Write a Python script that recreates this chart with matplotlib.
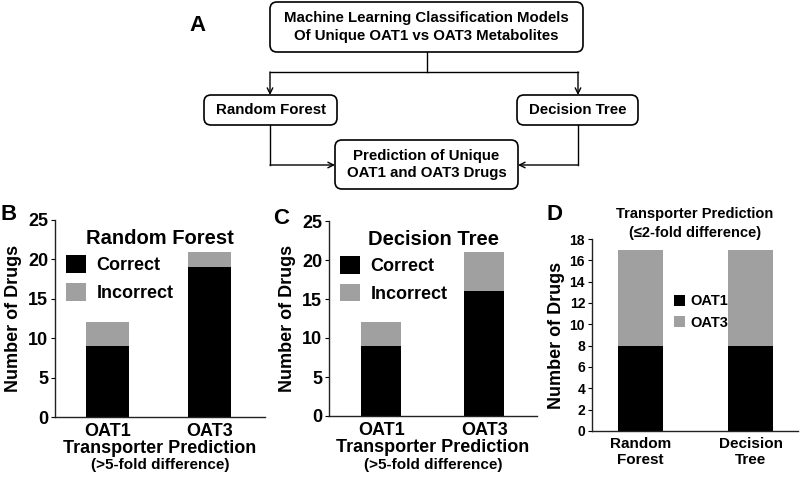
import matplotlib
matplotlib.use('Agg')
import matplotlib.pyplot as plt
from matplotlib.patches import FancyBboxPatch

plt.rcParams['font.family'] = ['Liberation Sans', 'DejaVu Sans']
plt.rcParams['font.weight'] = 'bold'

# Datos de los paneles
groups = ['OAT1', 'OAT3']
rf_correct = [9, 19]
rf_incorrect = [3, 2]
dt_correct = [9, 16]
dt_incorrect = [3, 5]

models = ['Random\nForest', 'Decision\nTree']
oat1_close = [8, 8]
oat3_close = [9, 9]

BLACK = '#000000'
GREY = '#a0a0a0'
W, H = 800, 478

fig = plt.figure(figsize=(8, 4.78), dpi=100)

# Panel A: diagrama de flujo en coordenadas de pixeles
fa = fig.add_axes([0, 0, 1, 1])
fa.set_xlim(0, W)
fa.set_ylim(H, 0)
fa.axis('off')


def box(x0, y0, x1, y1, text):
    p = FancyBboxPatch((x0, y0), x1 - x0, y1 - y0,
                       boxstyle='round,pad=0,rounding_size=7',
                       fc='white', ec='black', lw=1.2)
    fa.add_patch(p)
    fa.text((x0 + x1) / 2, (y0 + y1) / 2, text, ha='center', va='center',
            fontsize=10.8, fontweight='bold', linespacing=1.3)


def arrow(x0, y0, x1, y1):
    fa.annotate('', xy=(x1, y1), xytext=(x0, y0),
                arrowprops=dict(arrowstyle='->', lw=1.0, color='black',
                                shrinkA=0, shrinkB=0, mutation_scale=10))


box(270, 2, 583, 52, 'Machine Learning Classification Models\nOf Unique OAT1 vs OAT3 Metabolites')
box(204, 95, 337, 125, 'Random Forest')
box(517, 95, 638, 125, 'Decision Tree')
box(335, 140, 518, 189, 'Prediction of Unique\nOAT1 and OAT3 Drugs')

fa.plot([427, 427], [52, 72], color='black', lw=1.0)
fa.plot([270, 578], [72, 72], color='black', lw=1.0)
arrow(270, 72, 270, 95)
arrow(578, 72, 578, 95)
fa.plot([270, 270], [125, 165], color='black', lw=1.0)
fa.plot([578, 578], [125, 165], color='black', lw=1.0)
arrow(270, 165, 335, 165)
arrow(578, 165, 518, 165)
fa.text(198, 25, 'A', ha='center', va='center', fontsize=16, fontweight='bold')


def style(ax, ymax, step, tick_fs):
    for s in ['top', 'right']:
        ax.spines[s].set_visible(False)
    for s in ['left', 'bottom']:
        ax.spines[s].set_linewidth(1.0)
        ax.spines[s].set_color('#222222')
    ax.set_ylim(0, ymax)
    ax.set_yticks(range(0, ymax + 1, step))
    ax.tick_params(axis='y', direction='out', length=3, width=0.8,
                   labelsize=tick_fs, pad=2)
    ax.tick_params(axis='x', length=0, pad=4)
    for lab in ax.get_yticklabels():
        lab.set_fontweight('bold')


def stacked_panel(rect_px, correct, incorrect, title, xlim, width):
    x0, y0, x1, y1 = rect_px
    ax = fig.add_axes([x0 / W, 1 - y1 / H, (x1 - x0) / W, (y1 - y0) / H])
    x = list(range(len(groups)))
    ax.bar(x, correct, width=width, color=BLACK, label='Correct')
    ax.bar(x, incorrect, width=width, bottom=correct, color=GREY, label='Incorrect')
    ax.set_xlim(*xlim)
    style(ax, 25, 5, 13)
    ax.set_xticks(x)
    ax.set_xticklabels(groups, fontsize=13, fontweight='bold')
    ax.set_ylabel('Number of Drugs', fontsize=13, fontweight='bold', labelpad=4)
    ax.set_xlabel('Transporter Prediction', fontsize=13, fontweight='bold', labelpad=0)
    ax.text(0.5, 0.905, title, transform=ax.transAxes, ha='center', va='center',
            fontsize=14.5, fontweight='bold')
    ax.legend(loc='upper left', bbox_to_anchor=(0.0, 0.875), frameon=False,
              fontsize=13, handlelength=1.1, handleheight=1.1,
              handletextpad=0.6, labelspacing=0.5, borderaxespad=0.2)
    fig.text((x0 + x1) / 2 / W, 1 - 465 / H, '(>5-fold difference)',
             ha='center', va='center', fontsize=11, fontweight='bold')
    return ax


# Panel B
stacked_panel((55, 220, 265, 417), rf_correct, rf_incorrect,
              'Random Forest', (-0.52, 1.55), 0.42)
fig.text(9 / W, 1 - 215 / H, 'B', ha='center', va='center',
         fontsize=16, fontweight='bold')

# Panel C
stacked_panel((329, 221, 537, 416), dt_correct, dt_incorrect,
              'Decision Tree', (-0.505, 1.51), 0.39)
fig.text(281 / W, 1 - 219 / H, 'C', ha='center', va='center',
         fontsize=16, fontweight='bold')

# Panel D
axd = fig.add_axes([592 / W, 1 - 431 / H, 206 / W, 192 / H])
xd = list(range(len(models)))
axd.bar(xd, oat1_close, width=0.41, color=BLACK, label='OAT1')
axd.bar(xd, oat3_close, width=0.41, bottom=oat1_close, color=GREY, label='OAT3')
axd.set_xlim(-0.44, 1.43)
style(axd, 18, 2, 10)
axd.set_xticks(xd)
axd.set_xticklabels(models, fontsize=11, fontweight='bold', linespacing=1.25)
axd.set_ylabel('Number of Drugs', fontsize=13, fontweight='bold', labelpad=3)
fig.text(695 / W, 1 - 214 / H, 'Transporter Prediction', ha='center',
         va='center', fontsize=10.5, fontweight='bold')
fig.text(695 / W, 1 - 233 / H, '(\u22642-fold difference)', ha='center',
         va='center', fontsize=10.5, fontweight='bold')
axd.legend(loc='center', bbox_to_anchor=(0.53, 0.62), frameon=False,
           fontsize=10.5, handlelength=0.75, handleheight=0.75,
           handletextpad=0.4, labelspacing=0.5)
fig.text(555 / W, 1 - 215 / H, 'D', ha='center', va='center',
         fontsize=16, fontweight='bold')

fig.savefig('out.png', dpi=100)
